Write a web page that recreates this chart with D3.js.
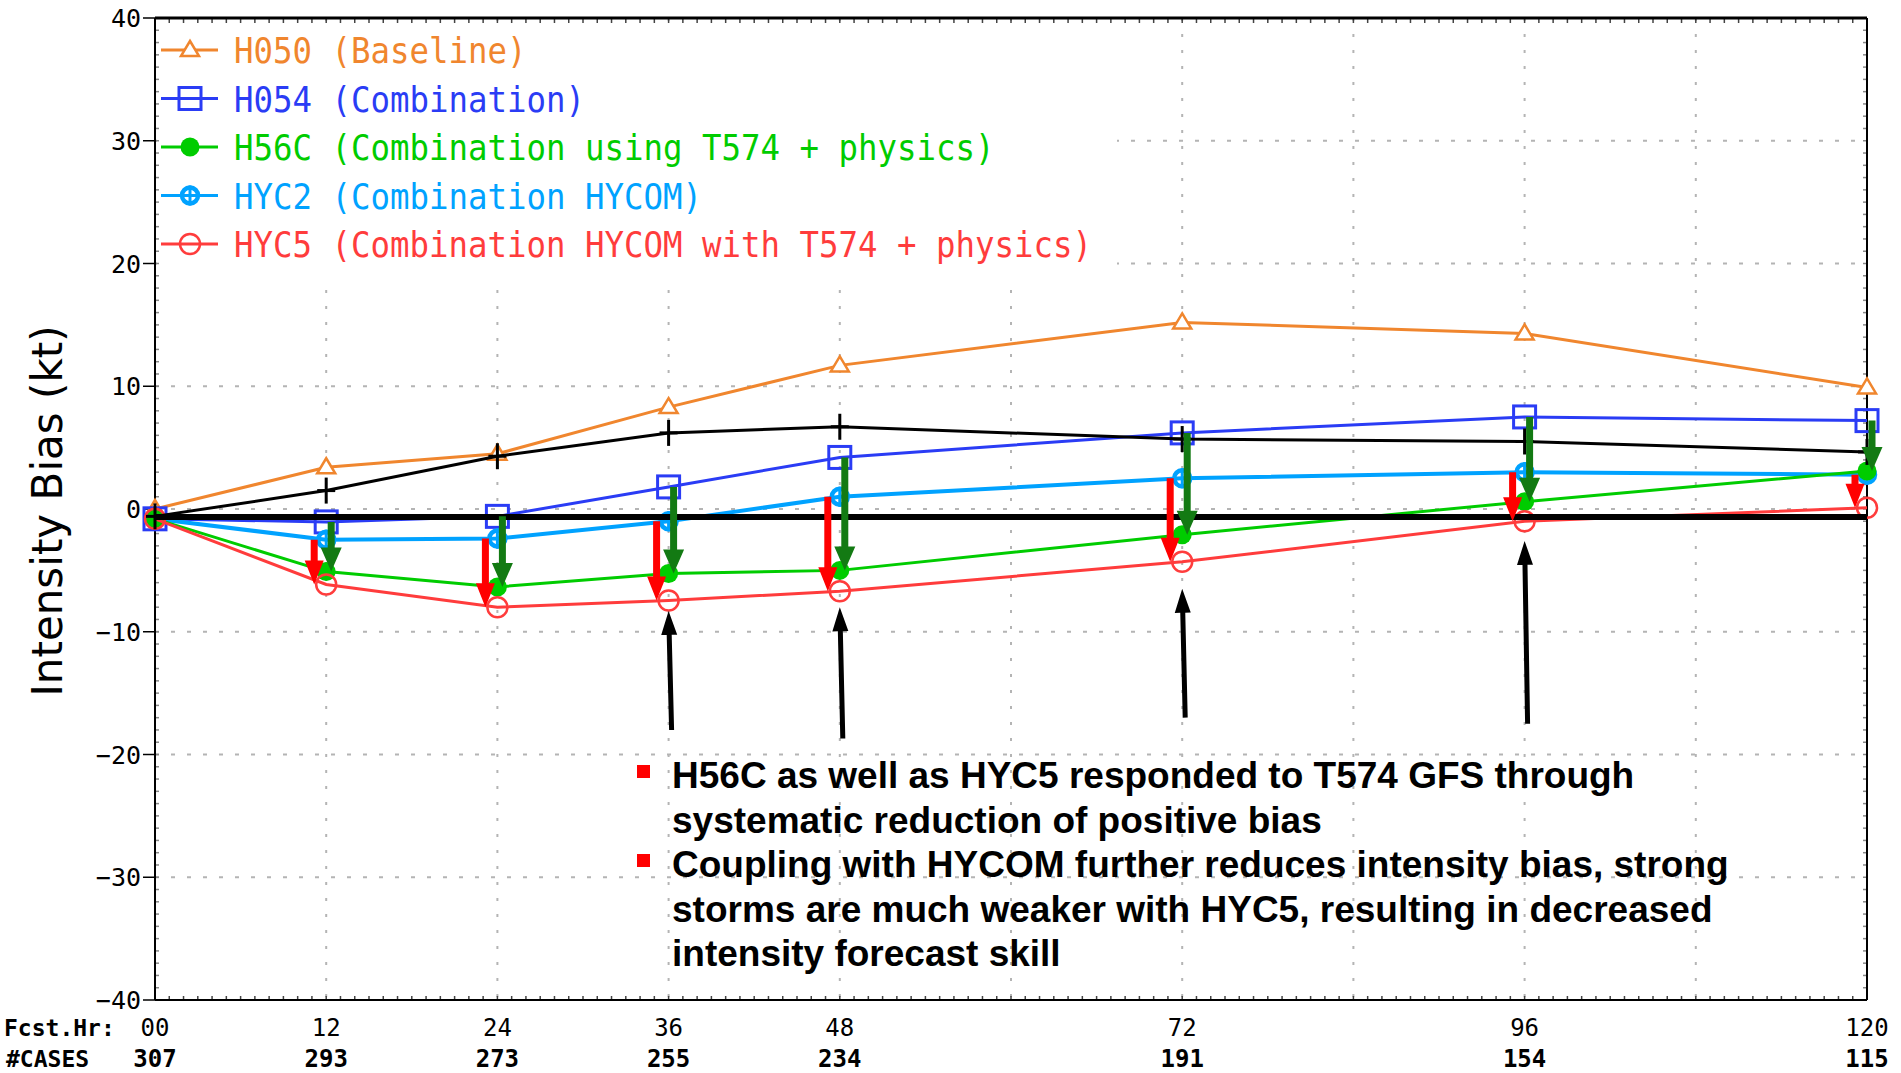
<!DOCTYPE html>
<html>
<head>
<meta charset="utf-8">
<script src="https://cdnjs.cloudflare.com/ajax/libs/d3/7.8.5/d3.min.js"></script>
<style>
	body { margin: 0; background: #ffffff; }
	svg { display: block; }
</style>
</head>
<body>
<div id="chart"></div>
<script>

// forecast hours and number of verifying cases
var hours = [0, 12, 24, 36, 48, 72, 96, 120];
var hourLabels = ["00", "12", "24", "36", "48", "72", "96", "120"];
var cases = [307, 293, 273, 255, 234, 191, 154, 115];
var yTicks = [-40, -30, -20, -10, 0, 10, 20, 30, 40];

// intensity bias (kt) per model
var h050 = [0.0, 3.4, 4.5, 8.3, 11.7, 15.2, 14.3, 9.9];
var h054 = [-0.8, -1.05, -0.6, 1.8, 4.2, 6.2, 7.5, 7.2];
var h56c = [-0.8, -5.1, -6.35, -5.25, -5.0, -2.1, 0.6, 3.1];
var hyc2 = [-0.8, -2.5, -2.4, -1.0, 1.0, 2.5, 3.0, 2.8];
var hyc5 = [-0.8, -6.15, -8.0, -7.45, -6.7, -4.3, -1.0, 0.1];
var unlabeled = [-0.6, 1.5, 4.3, 6.2, 6.7, 5.7, 5.5, 4.65];

var seriesNames = ["H050 (Baseline)", "H054 (Combination)", "H56C (Combination using T574 + physics)",
	"HYC2 (Combination HYCOM)", "HYC5 (Combination HYCOM with T574 + physics)"];
var seriesColors = ["#f0862e", "#2a3cf5", "#00cc00", "#00a2ff", "#ff3c3c"];

// annotations
var refLine = -0.65;
var upArrowHours = [36, 48, 72, 96];
var upArrowFrom = [-18.0, -18.7, -17.0, -17.5];
var upArrowTo = [-8.3, -8.0, -6.5, -2.6];
var notes = [
	["H56C as well as HYC5 responded to T574 GFS through", "systematic reduction of positive bias"],
	["Coupling with HYCOM further reduces intensity bias, strong", "storms are much weaker with HYC5, resulting in decreased", "intensity forecast skill"]
];

function init(){

	var w = 1901;
	var h = 1073;
	var left = 155, right = 1867, top = 18, bottom = 1000;
	var grads = "'DejaVu Sans Mono', monospace";

	var xScale = d3.scaleLinear()
					.domain([0, 120])
					.range([left, right]);

	var yScale = d3.scaleLinear()
					.domain([-40, 40])
					.range([bottom, top]);

	var svg = d3.select("#chart")
				.append("svg")
				.attr("width", w)
				.attr("height", h);

	//dotted grid
	svg.selectAll(".vgrid")
		.data(d3.range(12, 120, 12))
		.enter()
		.append("line")
		.attr("x1", function(d){ return xScale(d); })
		.attr("x2", function(d){ return xScale(d); })
		.attr("y1", top)
		.attr("y2", bottom)
		.attr("stroke", "#b4b4b4")
		.attr("stroke-width", 2)
		.attr("stroke-dasharray", "3,13");

	svg.selectAll(".hgrid")
		.data(d3.range(-30, 40, 10))
		.enter()
		.append("line")
		.attr("x1", left)
		.attr("x2", right)
		.attr("y1", function(d){ return yScale(d); })
		.attr("y2", function(d){ return yScale(d); })
		.attr("stroke", "#b4b4b4")
		.attr("stroke-width", 2)
		.attr("stroke-dasharray", "4,12");

	//legend background hides the grid
	svg.append("rect")
		.attr("x", left + 2)
		.attr("y", top + 3)
		.attr("width", 960)
		.attr("height", 257)
		.attr("fill", "#ffffff");

	//minor ticks on the frame
	var hourTicks = d3.range(1, 120);
	svg.selectAll(".ttick")
		.data(hourTicks)
		.enter()
		.append("line")
		.attr("x1", function(d){ return xScale(d); })
		.attr("x2", function(d){ return xScale(d); })
		.attr("y1", top)
		.attr("y2", top + 5)
		.attr("stroke", "#444")
		.attr("stroke-width", 1.5);
	svg.selectAll(".btick")
		.data(hourTicks)
		.enter()
		.append("line")
		.attr("x1", function(d){ return xScale(d); })
		.attr("x2", function(d){ return xScale(d); })
		.attr("y1", bottom - 4)
		.attr("y2", bottom)
		.attr("stroke", "#444")
		.attr("stroke-width", 1.5);
	var valTicks = d3.range(-39, 40);
	svg.selectAll(".ltick")
		.data(valTicks)
		.enter()
		.append("line")
		.attr("x1", left)
		.attr("x2", left + 4)
		.attr("y1", function(d){ return yScale(d); })
		.attr("y2", function(d){ return yScale(d); })
		.attr("stroke", "#888")
		.attr("stroke-width", 1.5);
	svg.selectAll(".rtick")
		.data(valTicks)
		.enter()
		.append("line")
		.attr("x1", right - 4)
		.attr("x2", right)
		.attr("y1", function(d){ return yScale(d); })
		.attr("y2", function(d){ return yScale(d); })
		.attr("stroke", "#888")
		.attr("stroke-width", 1.5);

	//frame
	svg.append("line").attr("x1", left).attr("x2", right).attr("y1", top).attr("y2", top)
		.attr("stroke", "#000").attr("stroke-width", 3);
	svg.append("line").attr("x1", left).attr("x2", right).attr("y1", bottom).attr("y2", bottom)
		.attr("stroke", "#000").attr("stroke-width", 2);
	svg.append("line").attr("x1", left).attr("x2", left).attr("y1", top).attr("y2", bottom)
		.attr("stroke", "#000").attr("stroke-width", 2);
	svg.append("line").attr("x1", right).attr("x2", right).attr("y1", top).attr("y2", bottom)
		.attr("stroke", "#000").attr("stroke-width", 2);

	//y axis ticks and labels
	svg.selectAll(".ymajor")
		.data(yTicks)
		.enter()
		.append("line")
		.attr("x1", left - 12)
		.attr("x2", left)
		.attr("y1", function(d){ return yScale(d); })
		.attr("y2", function(d){ return yScale(d); })
		.attr("stroke", "#000")
		.attr("stroke-width", 1.5);

	svg.selectAll(".ylabel")
		.data(yTicks)
		.enter()
		.append("text")
		.text(function(d){ return d3.format("d")(d); })
		.attr("x", left - 14)
		.attr("y", function(d){ return yScale(d) + 9; })
		.attr("text-anchor", "end")
		.attr("font-family", grads)
		.attr("font-size", 25)
		.attr("fill", "#000");

	svg.append("text")
		.text("Intensity Bias (kt)")
		.attr("transform", "translate(62," + ((top + bottom) / 2 + 2) + ") rotate(-90)")
		.attr("text-anchor", "middle")
		.attr("font-family", "'DejaVu Sans', sans-serif")
		.attr("font-size", 42)
		.attr("fill", "#000");

	//bottom rows: forecast hour and number of cases
	svg.append("text")
		.text("Fcst.Hr:")
		.attr("x", 4)
		.attr("y", 1036)
		.attr("font-family", grads)
		.attr("font-size", 23)
		.attr("font-weight", "bold")
		.attr("fill", "#000");
	svg.selectAll(".hrlabel")
		.data(hourLabels)
		.enter()
		.append("text")
		.text(function(d){ return d; })
		.attr("x", function(d, i){ return xScale(hours[i]); })
		.attr("y", 1036)
		.attr("text-anchor", "middle")
		.attr("font-family", grads)
		.attr("font-size", 24)
		.attr("fill", "#000");
	svg.append("text")
		.text("#CASES")
		.attr("x", 6)
		.attr("y", 1067)
		.attr("font-family", grads)
		.attr("font-size", 23)
		.attr("font-weight", "bold")
		.attr("fill", "#000");
	svg.selectAll(".caselabel")
		.data(cases)
		.enter()
		.append("text")
		.text(function(d){ return d; })
		.attr("x", function(d, i){ return xScale(hours[i]); })
		.attr("y", 1067)
		.attr("text-anchor", "middle")
		.attr("font-family", grads)
		.attr("font-size", 24)
		.attr("font-weight", "bold")
		.attr("fill", "#000");

	//marker shapes
	var markers = {
		triangle: function(g, c){
			g.append("path").attr("d", "M0,-9L9,6L-9,6Z")
				.attr("fill", "#fff").attr("stroke", c).attr("stroke-width", 2.5);
		},
		square: function(g, c){
			g.append("rect").attr("x", -11).attr("y", -11).attr("width", 22).attr("height", 22)
				.attr("fill", "none").attr("stroke", c).attr("stroke-width", 3);
		},
		dot: function(g, c){
			g.append("circle").attr("r", 9.5).attr("fill", c);
		},
		barCircle: function(g, c){
			g.append("circle").attr("r", 8).attr("fill", "none").attr("stroke", c).attr("stroke-width", 4.5);
			g.append("line").attr("y1", -10).attr("y2", 10).attr("stroke", c).attr("stroke-width", 3);
		},
		ring: function(g, c){
			g.append("circle").attr("r", 10).attr("fill", "none").attr("stroke", c).attr("stroke-width", 2.5);
		},
		plus: function(g, c){
			g.append("line").attr("y1", -13).attr("y2", 13).attr("stroke", c).attr("stroke-width", 3);
			g.append("line").attr("x1", -9).attr("x2", 9).attr("stroke", c).attr("stroke-width", 3);
		}
	};

	var series = [
		{values: h050, color: seriesColors[0], width: 3, marker: "triangle"},
		{values: h054, color: seriesColors[1], width: 3, marker: "square"},
		{values: hyc2, color: seriesColors[3], width: 4, marker: "barCircle"},
		{values: h56c, color: seriesColors[2], width: 3, marker: "dot"},
		{values: hyc5, color: seriesColors[4], width: 3, marker: "ring"},
		{values: unlabeled, color: "#000000", width: 3, marker: "plus"}
	];

	var line = d3.line()
		.x(function(d, i){ return xScale(hours[i]); })
		.y(function(d){ return yScale(d); });

	series.forEach(function(s){
		svg.append("path")
			.attr("d", line(s.values))
			.attr("fill", "none")
			.attr("stroke", s.color)
			.attr("stroke-width", s.width);
		s.values.forEach(function(v, i){
			var g = svg.append("g")
				.attr("transform", "translate(" + xScale(hours[i]) + "," + yScale(v) + ")");
			markers[s.marker](g, s.color);
		});
	});

	//thick reference line
	svg.append("line")
		.attr("x1", left)
		.attr("x2", right)
		.attr("y1", yScale(refLine))
		.attr("y2", yScale(refLine))
		.attr("stroke", "#000")
		.attr("stroke-width", 6);

	//arrow polygon
	function arrow(x0, y0, x1, y1, sw, hw, hl){
		var dx = x1 - x0, dy = y1 - y0;
		var len = Math.sqrt(dx * dx + dy * dy);
		var ux = dx / len, uy = dy / len, px = -uy, py = ux;
		var bx = x1 - ux * hl, by = y1 - uy * hl;
		var pts = [
			[x0 + px * sw / 2, y0 + py * sw / 2],
			[bx + px * sw / 2, by + py * sw / 2],
			[bx + px * hw / 2, by + py * hw / 2],
			[x1, y1],
			[bx - px * hw / 2, by - py * hw / 2],
			[bx - px * sw / 2, by - py * sw / 2],
			[x0 - px * sw / 2, y0 - py * sw / 2]
		];
		return "M" + pts.join("L") + "Z";
	}

	//red arrows: HYC2 -> HYC5, green arrows: H054 -> H56C
	hours.forEach(function(hr, i){
		if (i === 0) return;
		svg.append("path")
			.attr("d", arrow(xScale(hr) - 12, yScale(hyc2[i]), xScale(hr) - 12, yScale(hyc5[i]), 7, 19, 24))
			.attr("fill", "#ff0000");
		svg.append("path")
			.attr("d", arrow(xScale(hr) + 5, yScale(h054[i]), xScale(hr) + 5, yScale(h56c[i]), 7, 21, 24))
			.attr("fill", "#137a13");
	});

	//black arrows pointing at HYC5
	upArrowHours.forEach(function(hr, i){
		svg.append("path")
			.attr("d", arrow(xScale(hr) + 3, yScale(upArrowFrom[i]), xScale(hr), yScale(upArrowTo[i]), 5, 16, 24))
			.attr("fill", "#000");
	});

	//legend
	seriesNames.forEach(function(name, i){
		var ly = 50 + i * 48.5;
		svg.append("line")
			.attr("x1", 161)
			.attr("x2", 218)
			.attr("y1", ly)
			.attr("y2", ly)
			.attr("stroke", seriesColors[i])
			.attr("stroke-width", 3);
		var g = svg.append("g").attr("transform", "translate(190," + ly + ")");
		markers[["triangle", "square", "dot", "barCircle", "ring"][i]](g, seriesColors[i]);
		svg.append("text")
			.text(name)
			.attr("transform", "translate(234," + (ly + 13) + ") scale(0.9,1)")
			.attr("font-family", grads)
			.attr("font-size", 36)
			.attr("xml:space", "preserve")
			.attr("fill", seriesColors[i]);
	});

	//notes with red square bullets
	var lineNo = 0;
	notes.forEach(function(para){
		svg.append("rect")
			.attr("x", 637)
			.attr("y", 765 + lineNo * 44.5)
			.attr("width", 13)
			.attr("height", 13)
			.attr("fill", "#ff0000");
		para.forEach(function(t){
			svg.append("text")
				.text(t)
				.attr("x", 672)
				.attr("y", 788 + lineNo * 44.5)
				.attr("font-family", "'Liberation Sans', Arial, sans-serif")
				.attr("font-weight", "bold")
				.attr("font-size", 37)
				.attr("fill", "#000");
			lineNo++;
		});
	});
}

window.onload = init;
</script>
</body>
</html>
